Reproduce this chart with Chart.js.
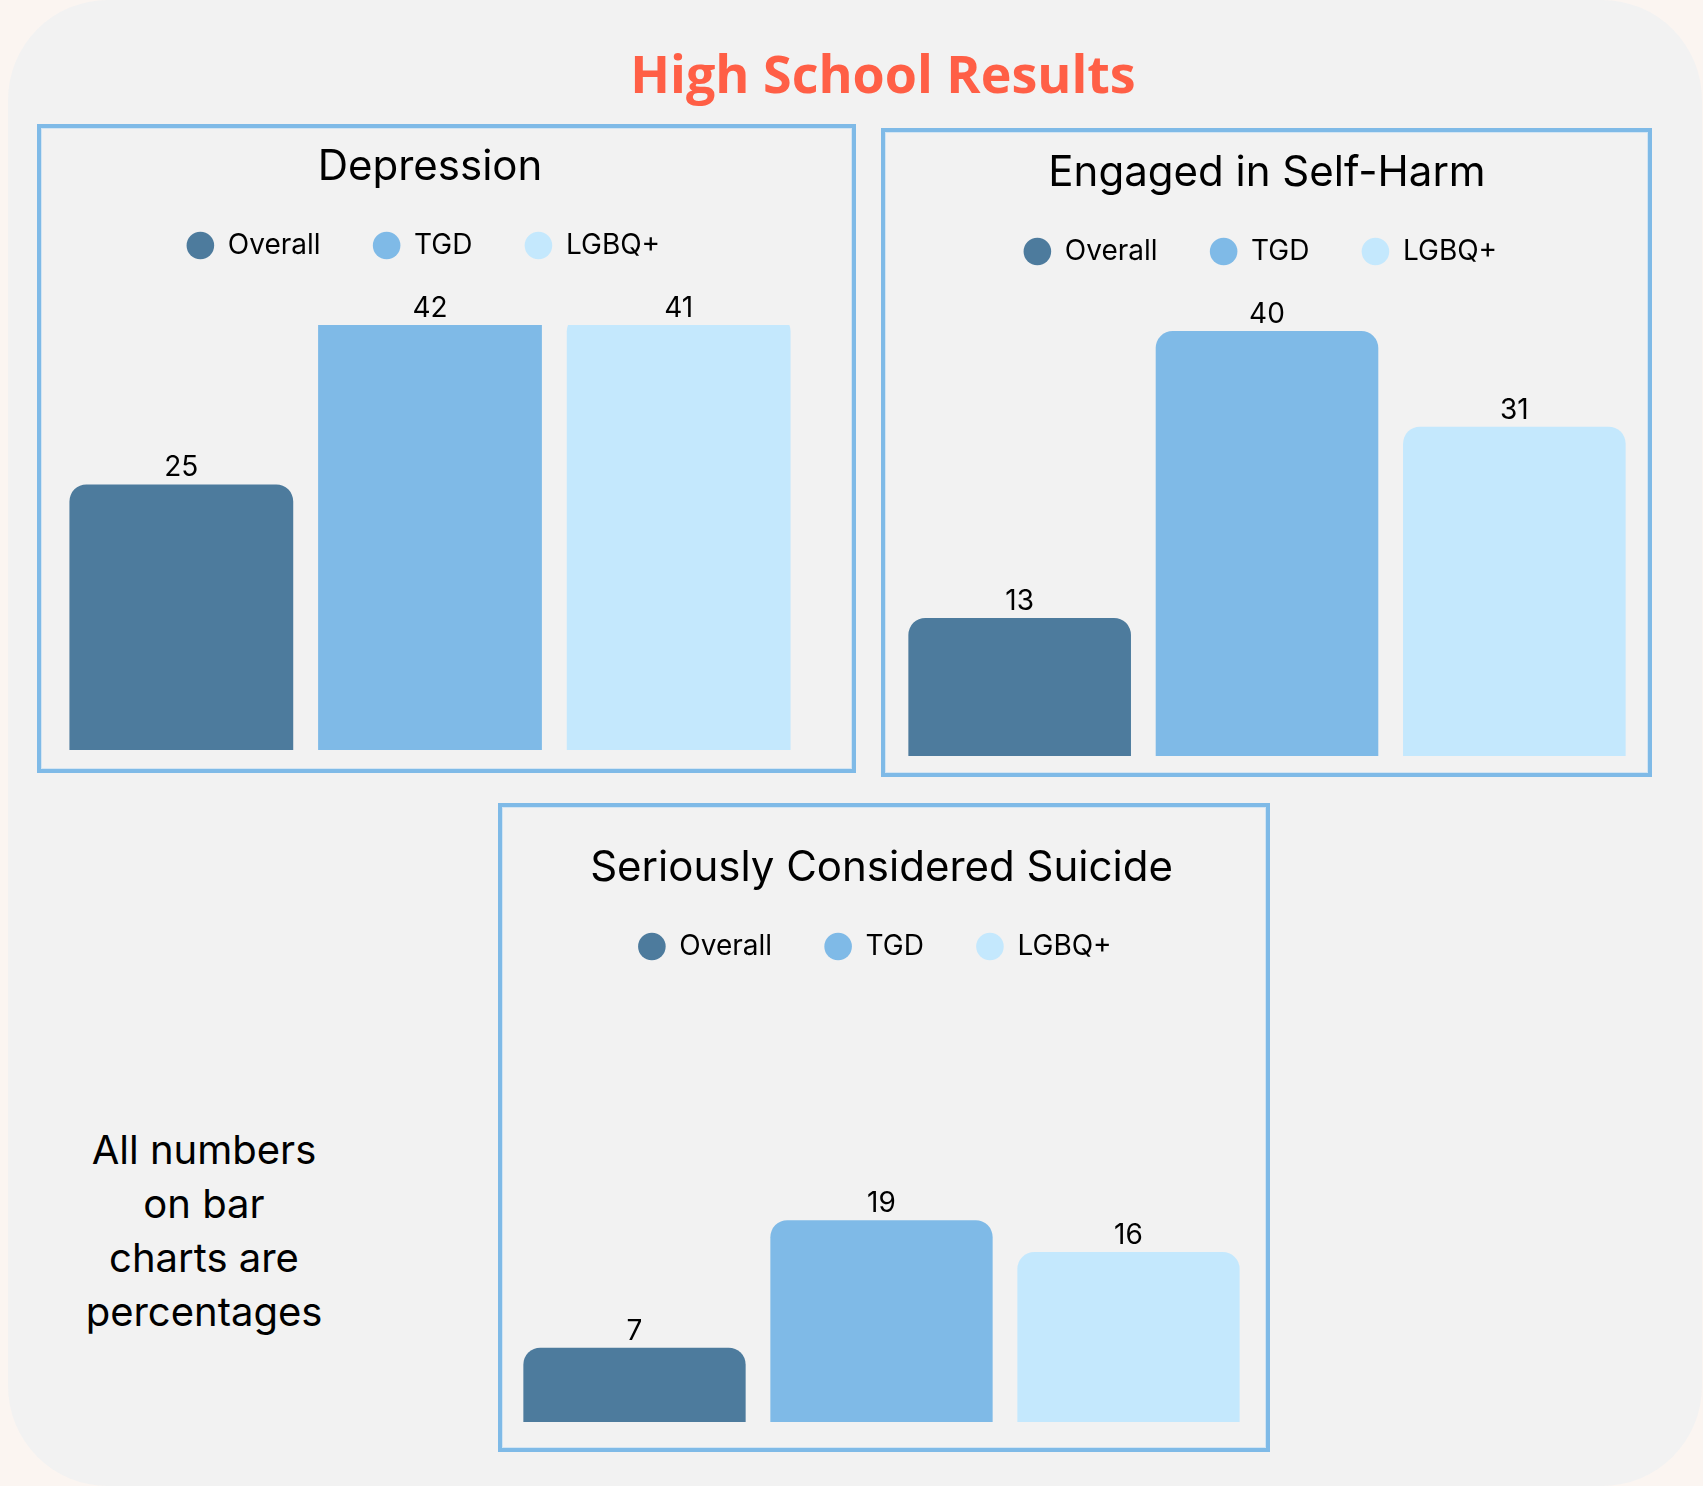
<!DOCTYPE html>
<html>
<head>
<meta charset="utf-8">
<title>High School Results</title>
<script src="https://cdn.jsdelivr.net/npm/chart.js@4.4.1/dist/chart.umd.min.js"></script>
<style>
  html, body { margin: 0; padding: 0; }
  body { width: 1703px; height: 1486px; background: #fbf5f1; position: relative; overflow: hidden; font-family: Inter, sans-serif; }
  .card { position: absolute; left: 8px; top: 0; width: 1694px; height: 1486px; background: #f2f2f2; border-radius: 100px; }
  .heading { position: absolute; left: 0; width: 1766px; top: 38px; text-align: center; font-family: "Open Sans", sans-serif; font-weight: 700; font-size: 52px; line-height: 70px; color: #ff5f46; margin: 0; }
  .frame { position: absolute; box-sizing: border-box; border: 4.5px solid #7fbae7; box-shadow: inset 0 0 0 1px #d3e5f3; }
  .plot { position: absolute; }
  .note { position: absolute; left: 54px; top: 1123px; width: 300px; text-align: center; font-size: 40px; line-height: 54px; color: #000; }
</style>
</head>
<body>
<div class="card"></div>
<h1 class="heading">High School Results</h1>

<div class="frame" style="left:37px; top:124px; width:819px; height:649px;"></div>
<div class="frame" style="left:881px; top:128px; width:771px; height:649px;"></div>
<div class="frame" style="left:498px; top:803px; width:772px; height:649px;"></div>

<div class="plot" style="left:57px; top:130px; width:746px; height:620px;"><canvas id="chart-depression"></canvas></div>
<div class="plot" style="left:896px; top:136px; width:742px; height:620px;"><canvas id="chart-selfharm"></canvas></div>
<div class="plot" style="left:511px; top:831px; width:741px; height:591px;"><canvas id="chart-suicide"></canvas></div>

<div class="note">All numbers<br>on bar<br>charts are<br>percentages</div>

<script>
// survey results, in percent
const topics = ['Depression', 'Engaged in Self-Harm', 'Seriously Considered Suicide']
const groups = ['Overall', 'TGD', 'LGBQ+']
const overall = [25, 13, 7]
const tgd = [42, 40, 19]
const lgbq = [41, 31, 16]
const groupColors = ['#4d7b9d', '#7fbae7', '#c4e8fd']
const yMax = 40

const canvasIds = ['chart-depression', 'chart-selfharm', 'chart-suicide']
// extra room under the legend, per chart
const legendGaps = [55.5, 55.5, 26.5]

Chart.defaults.font.family = 'Inter, sans-serif'
Chart.defaults.color = '#000'

// push the plot area down below the legend, and nudge the legend row sideways
const legendSpacer = {
  id: 'legendSpacer',
  beforeInit(chart, args, opts) {
    const fit = chart.legend.fit
    chart.legend.fit = function () {
      fit.call(this)
      this.height += opts.gap || 0
    }
  },
  afterLayout(chart, args, opts) {
    const shift = opts.shift || 0
    chart.legend.left += shift
    chart.legend.right += shift
  }
}

// value printed above each bar (at the plot top when the bar runs past it)
const barValues = {
  id: 'barValues',
  afterDatasetsDraw(chart) {
    const ctx = chart.ctx
    const top = chart.chartArea.top
    ctx.save()
    ctx.font = '400 28px Inter, sans-serif'
    ctx.fillStyle = '#000'
    ctx.textAlign = 'center'
    ctx.textBaseline = 'alphabetic'
    chart.data.datasets.forEach((ds, i) => {
      const meta = chart.getDatasetMeta(i)
      if (meta.hidden) return
      meta.data.forEach((bar, j) => {
        const y = Math.max(bar.y, top)
        ctx.fillText(String(ds.data[j]), bar.x, y - 8)
      })
    })
    ctx.restore()
  }
}

const buildChart = (k) => {
  const series = [overall[k], tgd[k], lgbq[k]]
  const ctx = document.getElementById(canvasIds[k]).getContext('2d')
  return new Chart(ctx, {
    type: 'bar',
    data: {
      labels: [topics[k]],
      datasets: groups.map((g, i) => ({
        label: g,
        data: [series[i]],
        backgroundColor: groupColors[i],
        borderRadius: 17,
        borderSkipped: 'start',
        categoryPercentage: 1,
        barPercentage: 0.9,
        clip: 0,
      })),
    },
    options: {
      responsive: true,
      maintainAspectRatio: false,
      animation: false,
      layout: { padding: 0 },
      scales: {
        x: { display: false },
        y: { display: false, min: 0, max: yMax },
      },
      plugins: {
        title: {
          display: true,
          text: topics[k],
          color: '#000',
          font: { size: 42, weight: '400', lineHeight: 0.31 },
          padding: { top: 30.5, bottom: 5.5 },
        },
        legend: {
          position: 'top',
          labels: {
            usePointStyle: true,
            pointStyle: 'circle',
            boxWidth: 27,
            boxHeight: 19.5,
            padding: 52.5,
            color: '#000',
            font: { size: 28 },
          },
        },
        legendSpacer: { gap: legendGaps[k], shift: -6.5 },
        tooltip: { enabled: false },
      },
    },
    plugins: [legendSpacer, barValues],
  })
}

topics.forEach((t, k) => buildChart(k))
</script>
</body>
</html>
